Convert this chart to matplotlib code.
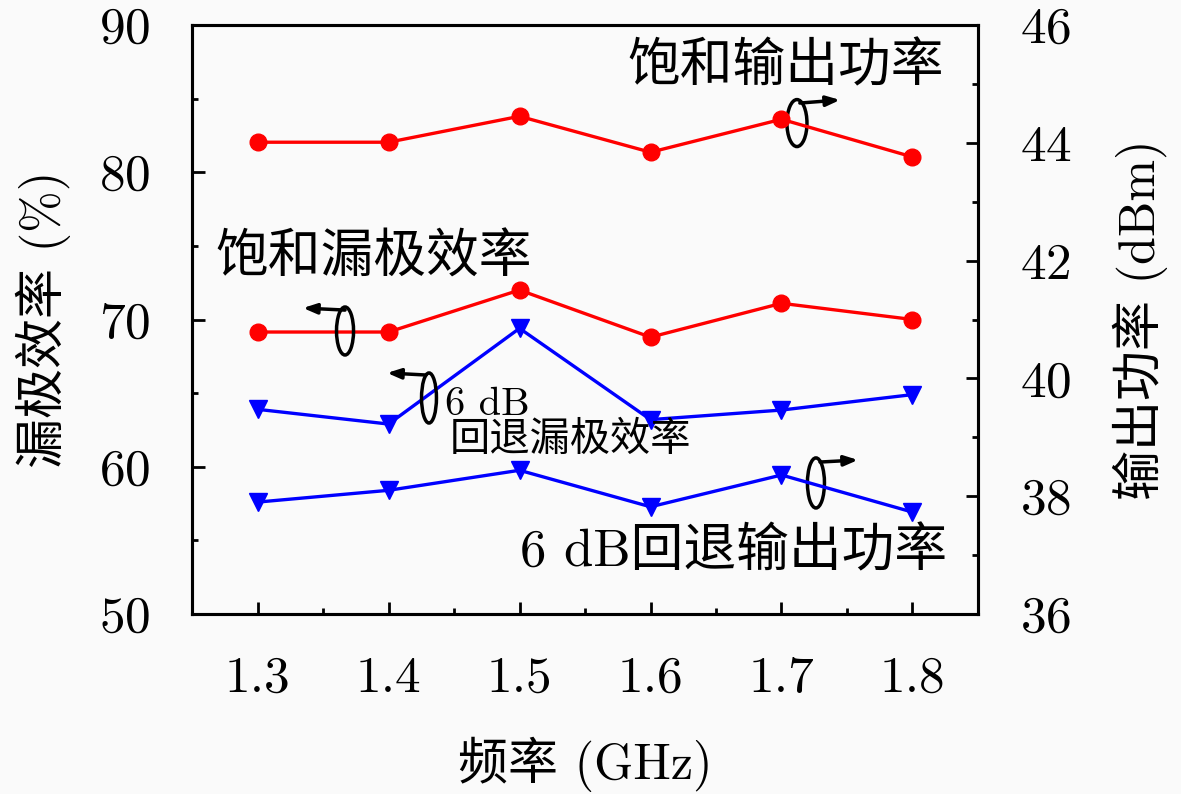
import matplotlib
matplotlib.use('Agg')
import matplotlib.pyplot as plt
from matplotlib.patches import Ellipse
from matplotlib.ticker import MultipleLocator

# data
freq = [1.3, 1.4, 1.5, 1.6, 1.7, 1.8]
sat_eff = [69.15, 69.15, 72.0, 68.8, 71.1, 70.0]           # %
bo_eff = [63.9, 62.9, 69.4, 63.2, 63.85, 64.9]             # %
sat_pout = [44.01, 44.01, 44.45, 43.84, 44.40, 43.76]      # dBm
bo_pout = [37.9, 38.1, 38.44, 37.82, 38.36, 37.73]         # dBm

FONT = ['cmr10', 'Noto Sans CJK SC']
plt.rcParams['font.family'] = FONT
plt.rcParams['axes.formatter.use_mathtext'] = True
plt.rcParams['axes.unicode_minus'] = False

fig = plt.figure(figsize=(11.81, 7.94), dpi=100, facecolor='#fafafa')
ax = fig.add_axes([0.1626, 0.2267, 0.6655, 0.7418])
ax.set_facecolor('#fafafa')
ax2 = ax.twinx()

ax.plot(freq, sat_eff, color='#ff0000', marker='o', ms=12, lw=2.4)
ax.plot(freq, bo_eff, color='#0000ff', marker='v', ms=13, lw=2.4)
ax2.plot(freq, sat_pout, color='#ff0000', marker='o', ms=12, lw=2.4)
ax2.plot(freq, bo_pout, color='#0000ff', marker='v', ms=13, lw=2.4)

ax.set_xlim(1.25, 1.85)
ax.set_ylim(50, 90)
ax2.set_ylim(36, 46)

ax.xaxis.set_major_locator(MultipleLocator(0.1))
ax.xaxis.set_minor_locator(MultipleLocator(0.05))
ax.yaxis.set_major_locator(MultipleLocator(10))
ax.yaxis.set_minor_locator(MultipleLocator(5))
ax2.yaxis.set_major_locator(MultipleLocator(2))
ax2.yaxis.set_minor_locator(MultipleLocator(1))
ax.xaxis.set_major_formatter(matplotlib.ticker.FormatStrFormatter('%.1f'))

for a in (ax, ax2):
    for s in a.spines.values():
        s.set_linewidth(2.2)
ax.tick_params(which='both', direction='in', top=False, right=False,
               labelsize=37, pad=30, width=2)
ax.tick_params(which='major', length=9)
ax.tick_params(which='minor', length=4.5)
ax2.tick_params(which='both', direction='in', labelsize=37, pad=30, width=2)
ax2.tick_params(which='major', length=9)
ax2.tick_params(which='minor', length=4.5)

ax.set_xlabel('频率 (GHz)', fontsize=36, va='center')
ax.xaxis.set_label_coords(0.5, -0.256)
ax.set_ylabel('漏极效率 (%)', fontsize=36, va='center')
ax.yaxis.set_label_coords(-0.189, 0.5)
ax2.set_ylabel('输出功率 (dBm)', fontsize=36, va='center', rotation=90)
ax2.yaxis.set_label_coords(1.206, 0.5)

# annotations
ax.text(1.582, 87.15, '饱和输出功率', fontsize=38, ha='left', va='center')
ax.text(1.2676, 74.18, '饱和漏极效率', fontsize=38, ha='left', va='center')
ax.text(1.4431, 64.19, '6 dB', fontsize=29, ha='left', va='center')
ax.text(1.4470, 61.82, '回退漏极效率', fontsize=29, ha='left', va='center')
ax.text(1.5003, 54.21, '6 dB回退输出功率', fontsize=38, ha='left', va='center')

ellipses = [
    ((1.7118, 83.34), 0.0153, 3.19, (1.7140, 84.70), (1.7447, 84.91)),
    ((1.3668, 69.22), 0.0130, 3.26, (1.3668, 70.64), (1.3347, 70.78)),
    ((1.4309, 64.67), 0.0114, 3.40, (1.4286, 66.23), (1.3989, 66.37)),
    ((1.7263, 58.90), 0.0130, 3.40, (1.7294, 60.32), (1.7584, 60.46)),
]
for c, w, h, start, end in ellipses:
    ax.add_patch(Ellipse(c, w, h, fill=False, ec='black', lw=2.5, zorder=5))
    ax.annotate('', xy=end, xytext=start,
                arrowprops=dict(arrowstyle='-|>,head_length=0.8,head_width=0.3',
                                color='black', lw=2.5, shrinkA=0, shrinkB=0),
                zorder=5)

plt.savefig('out.png', dpi=100, facecolor=fig.get_facecolor())
